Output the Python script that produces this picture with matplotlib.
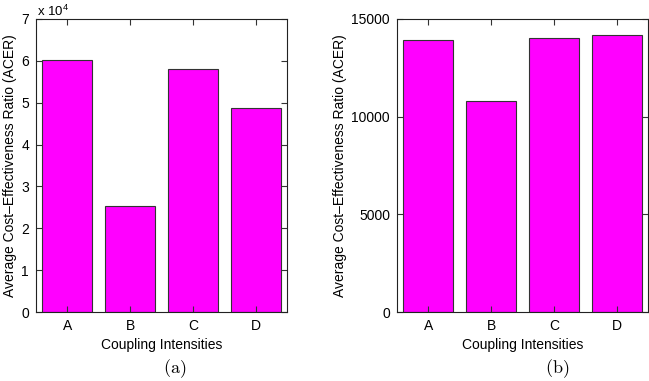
import matplotlib
matplotlib.use('Agg')
from matplotlib import pyplot as plt
import numpy as np

plt.rcParams['font.family'] = ['Liberation Sans', 'DejaVu Sans']
plt.rcParams['mathtext.fontset'] = 'custom'
plt.rcParams['mathtext.rm'] = 'Liberation Sans'

categories = ['A', 'B', 'C', 'D']
acer_a = [60100, 25400, 58000, 48700]   # panel (a), plotted in units of 1e4
acer_b = [13940, 10800, 14010, 14180]   # panel (b)
yticks_a = [0, 1, 2, 3, 4, 5, 6, 7]
yticks_b = [0, 5000, 10000, 15000]

fig = plt.figure(figsize=(6.49, 3.81), dpi=100)
ax1 = fig.add_axes([36/649, 1 - 312/381, 251/649, 293/381])
ax2 = fig.add_axes([397/649, 1 - 312/381, 251/649, 293/381])

x = np.arange(1, len(categories) + 1)


def style(ax, vals, yticks, ymax):
    ax.bar(x, vals, width=0.8, color='#ff00ff', edgecolor='#333333', linewidth=0.8)
    ax.set_xlim(0.5, 4.5)
    ax.set_ylim(0, ymax)
    ax.set_xticks(x)
    ax.set_xticklabels(categories)
    ax.set_yticks(yticks)
    ax.tick_params(direction='in', top=True, right=True, length=4, width=0.8,
                   labelsize=10, pad=5, color='#333333')
    for s in ax.spines.values():
        s.set_linewidth(0.8)
        s.set_color('#222222')
    ax.set_xlabel('Coupling Intensities', fontsize=10, labelpad=4)
    ax.set_ylabel('Average Cost\u2013Effectiveness Ratio (ACER)', fontsize=10, labelpad=3)


style(ax1, [v / 1e4 for v in acer_a], yticks_a, 7)
style(ax2, acer_b, yticks_b, 15000)

ax1.text(0.003, 1 + 3/293, r'x 10$^{4}$', transform=ax1.transAxes, fontsize=9.5,
         ha='left', va='baseline')

# subfigure captions
fig.text(175/649, 1 - 369/381, r'$\mathrm{(a)}$', math_fontfamily='cm',
         fontsize=13, ha='center', va='center')
fig.text(557/649, 1 - 369/381, r'$\mathrm{(b)}$', math_fontfamily='cm',
         fontsize=13, ha='center', va='center')

fig.savefig('out.png', dpi=100)
